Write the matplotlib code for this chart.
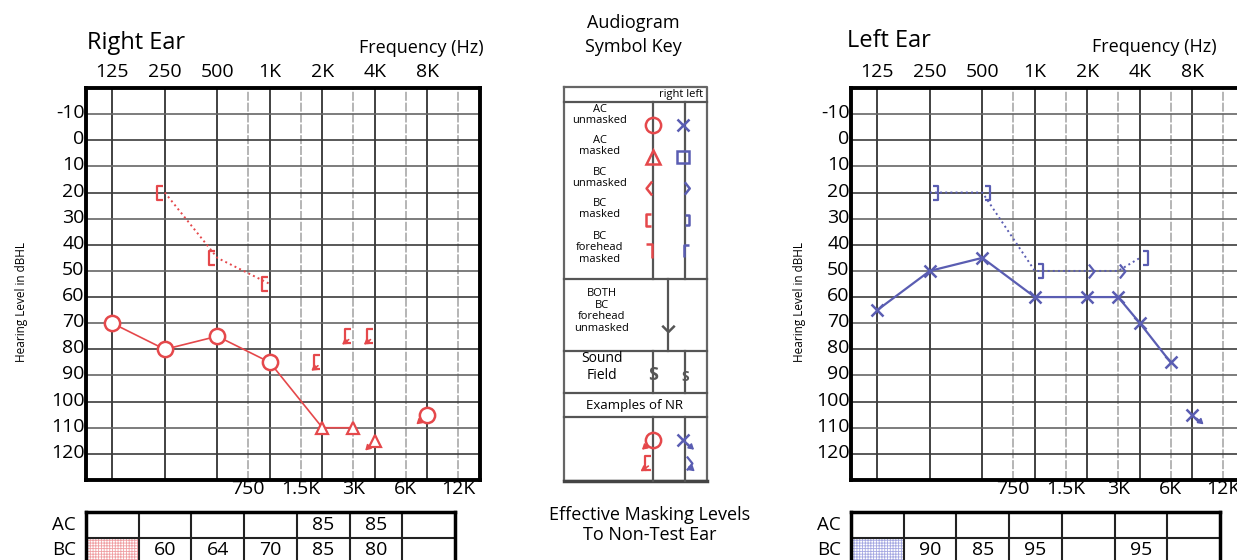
import matplotlib
matplotlib.use('Agg')
import matplotlib.pyplot as plt
import matplotlib.transforms as mtransforms
from matplotlib.path import Path
from matplotlib.patches import Rectangle
import numpy as np

plt.rcParams['font.family'] = ['Open Sans', 'DejaVu Sans']
plt.rcParams['hatch.linewidth'] = 0.6
plt.rcParams['axes.unicode_minus'] = False

# axis ticks
octave_freqs = [125, 250, 500, 1000, 2000, 4000, 8000]
octave_labels = ['125', '250', '500', '1K', '2K', '4K', '8K']
half_freqs = [750, 1500, 3000, 6000, 12000]
half_labels = ['750', '1.5K', '3K', '6K', '12K']
db_ticks = list(range(-10, 130, 10))

# right ear
r_ac_freq = [125, 250, 500, 1000]
r_ac_db = [70, 80, 75, 85]
r_acm_freq = [2000, 3000]
r_acm_db = [110, 110]
r_acm_nr_freq = [4000]
r_acm_nr_db = [115]
r_ac_nr_freq = [8000]
r_ac_nr_db = [105]
r_bcm_freq = [250, 500, 1000]
r_bcm_db = [20, 45, 55]
r_bcm_nr_freq = [2000, 3000, 4000]
r_bcm_nr_db = [85, 75, 75]

# left ear
l_ac_freq = [125, 250, 500, 1000, 2000, 3000, 4000, 6000]
l_ac_db = [65, 50, 45, 60, 60, 60, 70, 85]
l_ac_nr_freq = [8000]
l_ac_nr_db = [105]
l_bcm_freq = [250, 500, 1000, 4000]
l_bcm_db = [20, 20, 50, 45]
l_bcu_freq = [2000, 3000]
l_bcu_db = [50, 50]

# effective masking levels
r_mask_ac = [None, None, None, None, 85, 85, None]
r_mask_bc = [None, 60, 64, 70, 85, 80, None]
l_mask_ac = [None] * 7
l_mask_bc = [None, 90, 85, 95, None, 95, None]

RED = '#e5484b'
BLUE = '#5a5db2'
GRAY = '#555555'
W, H = 1237, 560
FMIN = 125 / np.sqrt(2)
FMAX = 16000

# marker shapes
BR_L = Path([(-0.3, 0.8), (-1, 0.8), (-1, -0.8), (-0.3, -0.8)])
BR_R = Path([(0.3, 0.8), (1, 0.8), (1, -0.8), (0.3, -0.8)])
ANG_L = Path([(-0.2, 1), (-1, 0), (-0.2, -1)])
ANG_R = Path([(0.2, 1), (1, 0), (0.2, -1)])
FH_L = Path([(-1, 1), (-0.2, 1), (-0.2, -1)])
FH_R = Path([(1, 1), (0.2, 1), (0.2, -1)])
BOTH_V = Path([(-1, 0.6), (0, -0.4), (1, 0.6)])

fig = plt.figure(figsize=(W / 100, H / 100), dpi=100)


def rect(x0, y0, x1, y1):
    return [x0 / W, 1 - y1 / H, (x1 - x0) / W, (y1 - y0) / H]


def nr_arrow(ax, x, y, dx, dy, color, shrink=5):
    ax.annotate('', xy=(x, y), xytext=(dx, dy), textcoords='offset points',
                arrowprops=dict(arrowstyle='<|-,head_length=0.3,head_width=0.18',
                                color=color, lw=1.2, shrinkA=0, shrinkB=shrink))


def setup_audiogram(ax):
    ax.set_xscale('log', base=2)
    ax.set_xlim(FMIN, FMAX)
    ax.set_ylim(130, -20)
    ax.set_xticks(octave_freqs, octave_labels)
    ax.set_xticks(half_freqs, half_labels, minor=True)
    ax.tick_params(axis='x', which='major', top=False, bottom=False,
                   labeltop=True, labelbottom=False, length=0, pad=5, labelsize=14)
    ax.tick_params(axis='x', which='minor', top=False, bottom=False,
                   labeltop=False, labelbottom=True, length=0, pad=0, labelsize=14)
    ax.set_yticks(db_ticks)
    ax.tick_params(axis='y', length=0, pad=1, labelsize=14)
    off = mtransforms.ScaledTranslation(0, 0.03, fig.dpi_scale_trans)
    for lbl in ax.get_yticklabels():
        lbl.set_transform(lbl.get_transform() + off)
    for f in octave_freqs:
        ax.axvline(f, color='#333333', lw=1.3, zorder=1)
    for f in half_freqs:
        ax.axvline(f, color='#b0b0b0', lw=1.3, ls=(0, (5, 1)), zorder=1)
    for d in db_ticks:
        ax.axhline(d, color='#3c3c3c' if d % 20 == 0 else '#666666', lw=1.2, zorder=1)
    for s in ax.spines.values():
        s.set_linewidth(2.8)
        s.set_color('black')
        s.set_zorder(5)


def draw_table(ax, ac_vals, bc_vals, hatch_color):
    ax.set_xscale('log', base=2)
    right = 125 * 2 ** 6.5
    ax.set_xlim(FMIN, right)
    ax.set_ylim(2, 0)
    ax.set_xticks([])
    ax.set_yticks([])
    ax.minorticks_off()
    edges = [125 * 2 ** (k - 0.5) for k in range(8)]
    ax.add_patch(Rectangle((edges[0], 1), edges[1] - edges[0], 1, fill=False,
                           hatch='++++++', edgecolor=hatch_color, lw=0))
    for e in edges[1:-1]:
        ax.plot([e, e], [0, 2], color='#222222', lw=1.5)
    ax.plot([FMIN, right], [1, 1], color='#222222', lw=1.5)
    for s in ax.spines.values():
        s.set_linewidth(2.5)
    for f, a, b in zip(octave_freqs, ac_vals, bc_vals):
        if a is not None:
            ax.text(f, 0.5, str(a), ha='center', va='center', fontsize=14)
        if b is not None:
            ax.text(f, 1.5, str(b), ha='center', va='center', fontsize=14)
    shift = ax.transData + mtransforms.ScaledTranslation(-0.1, 0, fig.dpi_scale_trans)
    ax.text(FMIN, 0.5, 'AC', ha='right', va='center', fontsize=13.5, transform=shift)
    ax.text(FMIN, 1.5, 'BC', ha='right', va='center', fontsize=13.5, transform=shift)


# overlay for free text and the symbol key (pixel coordinates)
ak = fig.add_axes([0, 0, 1, 1])
ak.set_xlim(0, W)
ak.set_ylim(H, 0)
ak.axis('off')

# ---- right ear ----
ax_r = fig.add_axes(rect(86, 88, 480, 480))
setup_audiogram(ax_r)
ax_r.plot(r_ac_freq + r_acm_freq, r_ac_db + r_acm_db, color=RED, lw=1.2, zorder=3)
ax_r.plot(r_ac_freq + r_ac_nr_freq, r_ac_db + r_ac_nr_db, ls='none', marker='o', ms=11,
          mfc='white', mec=RED, mew=1.8, zorder=4)
ax_r.plot(r_acm_freq + r_acm_nr_freq, r_acm_db + r_acm_nr_db, ls='none', marker='^', ms=9,
          mfc='white', mec=RED, mew=1.6, zorder=4)
ax_r.plot(r_bcm_freq, r_bcm_db, color=RED, ls=':', lw=1.4, zorder=3)
ax_r.plot(r_bcm_freq + r_bcm_nr_freq, r_bcm_db + r_bcm_nr_db, ls='none', marker=BR_L, ms=12,
          mfc='none', mec=RED, mew=1.6, zorder=4)
for f, d in zip(r_ac_nr_freq, r_ac_nr_db):
    nr_arrow(ax_r, f, d, -8, -7, RED, 6)
for f, d in zip(r_acm_nr_freq, r_acm_nr_db):
    nr_arrow(ax_r, f, d, -7, -7, RED, 4)
for f, d in zip(r_bcm_nr_freq, r_bcm_nr_db):
    nr_arrow(ax_r, f, d, -8, -6, RED, 4)

draw_table(fig.add_axes(rect(86, 512, 455, 563)), r_mask_ac, r_mask_bc, '#f0a0a4')

# ---- left ear ----
ax_l = fig.add_axes(rect(851, 88, 1245, 480))
setup_audiogram(ax_l)
ax_l.plot(l_ac_freq, l_ac_db, color=BLUE, lw=1.6, marker='x', ms=9, mew=1.8, zorder=4)
ax_l.plot(l_ac_nr_freq, l_ac_nr_db, ls='none', color=BLUE, marker='x', ms=9, mew=1.8, zorder=4)
for f, d in zip(l_ac_nr_freq, l_ac_nr_db):
    nr_arrow(ax_l, f, d, 8, -7, BLUE, 4)
l_bc_pts = sorted(zip(l_bcm_freq + l_bcu_freq, l_bcm_db + l_bcu_db))
ax_l.plot([p[0] for p in l_bc_pts], [p[1] for p in l_bc_pts], color=BLUE, ls=':', lw=1.4, zorder=3)
ax_l.plot(l_bcm_freq, l_bcm_db, ls='none', marker=BR_R, ms=12, mfc='none', mec=BLUE, mew=1.6, zorder=4)
ax_l.plot(l_bcu_freq, l_bcu_db, ls='none', marker=ANG_R, ms=10, mfc='none', mec=BLUE, mew=1.6, zorder=4)

draw_table(fig.add_axes(rect(851, 512, 1220, 563)), l_mask_ac, l_mask_bc, '#a6a9e2')

# ---- titles ----
ak.text(87, 49, 'Right Ear', fontsize=17, va='baseline')
ak.text(484, 53, 'Frequency (Hz)', fontsize=13, ha='right', va='baseline')
ak.text(847, 47, 'Left Ear', fontsize=17, va='baseline')
ak.text(1217, 52, 'Frequency (Hz)', fontsize=13, ha='right', va='baseline')
ak.text(22, 302, 'Hearing Level in dBHL', fontsize=8.5, rotation=90, ha='center', va='center')
ak.text(800, 302, 'Hearing Level in dBHL', fontsize=8.5, rotation=90, ha='center', va='center')

# ---- symbol key ----
KL, KR, KT, KB = 564, 707, 87, 481
C1, C2, CB = 653, 685, 668
ak.text(633, 35, 'Audiogram\nSymbol Key', fontsize=13, ha='center', va='center', linespacing=1.4)
ak.plot([KL, KR, KR, KL, KL], [KT, KT, KB, KB, KT], color='#666666', lw=1.6)
ak.plot([KL, KR], [KB, KB], color='#444444', lw=2.5)
for y in [102, 279, 351, 393, 417]:
    ak.plot([KL, KR], [y, y], color='#555555', lw=1.6)
for x in [C1, C2]:
    ak.plot([x, x], [102, 279], color='#555555', lw=1.6)
    ak.plot([x, x], [351, 393], color='#555555', lw=1.6)
    ak.plot([x, x], [417, KB], color='#555555', lw=1.6)
ak.plot([CB, CB], [279, 351], color='#555555', lw=1.6)

ak.text(703, 95, 'right left', fontsize=8, ha='right', va='center')
key_labels = ['AC\nunmasked', 'AC\nmasked', 'BC\nunmasked', 'BC\nmasked', 'BC\nforehead\nmasked']
key_label_y = [115, 146, 178, 209, 248]
for t, y in zip(key_labels, key_label_y):
    ak.text(600, y, t, fontsize=8, ha='center', va='center', linespacing=1.05)
key_y = [125, 157, 188, 220, 251]
red_marks = ['o', '^', ANG_L, BR_L, FH_L]
blue_marks = ['x', 's', ANG_R, BR_R, FH_R]
for y, mr, mb in zip(key_y, red_marks, blue_marks):
    ak.plot([C1], [y], marker=mr, ms=10 if mr != 'o' else 11, mfc='none', mec=RED, mew=1.8, ls='none')
    ak.plot([C2 - 2], [y], marker=mb, ms=9, mfc='none', mec=BLUE, mew=1.8, ls='none')

ak.text(602, 311, 'BOTH\nBC\nforehead\nunmasked', fontsize=8, ha='center', va='center', linespacing=1.1)
ak.plot([CB], [329], marker=BOTH_V, ms=9, mfc='none', mec=GRAY, mew=1.8, ls='none')
ak.text(602, 367, 'Sound\nField', fontsize=10, ha='center', va='center', linespacing=1.1)
ak.text(C1, 375, 'S', fontsize=13, fontweight='bold', color=GRAY, ha='center', va='center')
ak.text(C2, 377, 'S', fontsize=10, fontweight='bold', color=GRAY, ha='center', va='center')
ak.text(635, 405, 'Examples of NR', fontsize=9.5, ha='center', va='center')

ak.plot([C1], [440], marker='o', ms=11, mfc='none', mec=RED, mew=1.8, ls='none')
nr_arrow(ak, C1, 440, -8, -7, RED, 6)
ak.plot([C1], [463], marker=BR_L, ms=12, mfc='none', mec=RED, mew=1.6, ls='none')
nr_arrow(ak, C1, 463, -9, -6, RED, 4)
ak.plot([C2 - 2], [440], marker='x', ms=9, mfc='none', mec=BLUE, mew=1.8, ls='none')
nr_arrow(ak, C2 - 2, 440, 8, -7, BLUE, 4)
ak.plot([C2], [463], marker=ANG_R, ms=10, mfc='none', mec=BLUE, mew=1.6, ls='none')
nr_arrow(ak, C2, 463, 7, -6, BLUE, 4)

ak.text(650, 525, 'Effective Masking Levels\nTo Non-Test Ear', fontsize=13, ha='center',
        va='center', linespacing=1.2)

fig.savefig('out.png', dpi=100)
